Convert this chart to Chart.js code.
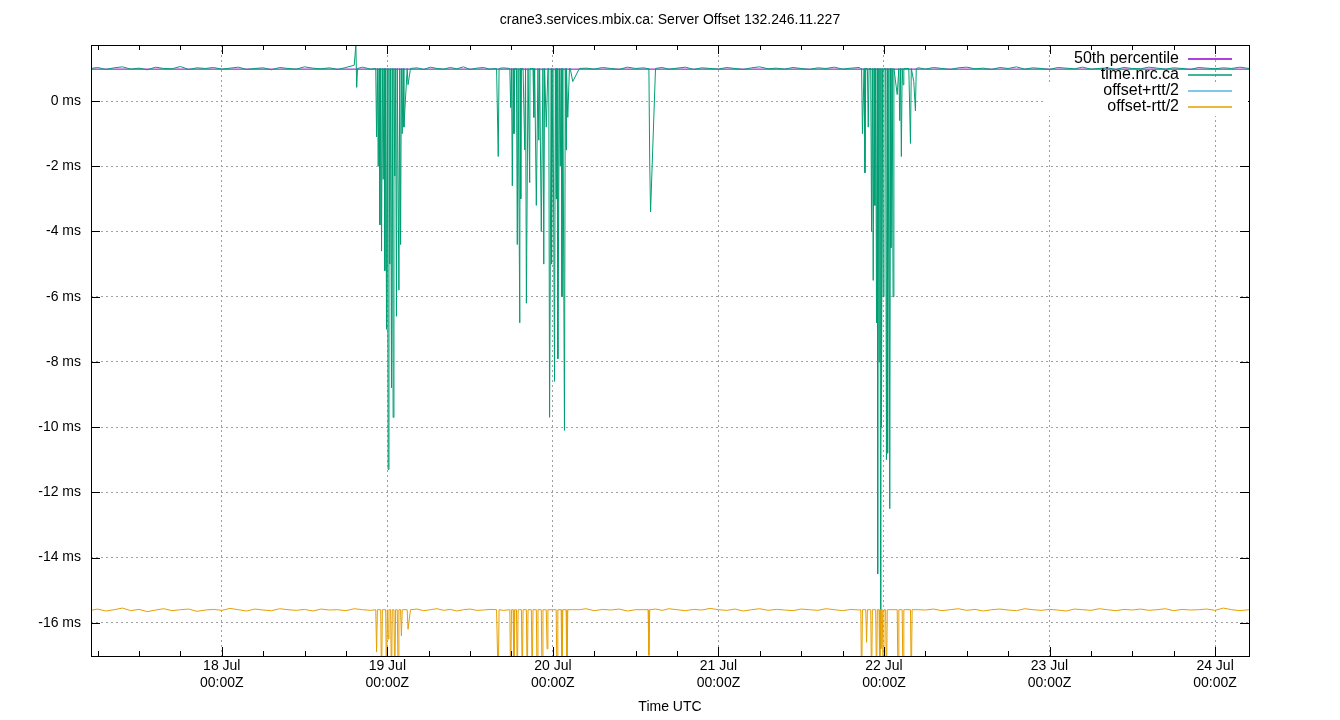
<!DOCTYPE html>
<html><head><meta charset="utf-8">
<script src="https://cdn.jsdelivr.net/npm/chart.js@4"></script>
<style>html,body{margin:0;background:#fff}#wrap{width:1340px;height:720px}</style>
</head><body><div id="wrap"><canvas id="c"></canvas></div>
<script>
// ---------------- datos ----------------
const chartTitle = 'crane3.services.mbix.ca: Server Offset 132.246.11.227';
const xTickDays  = [18, 19, 20, 21, 22, 23, 24];
const xTickLbls  = ['18 Jul', '19 Jul', '20 Jul', '21 Jul', '22 Jul', '23 Jul', '24 Jul'];
const seriesNames = ['50th percentile', 'time.nrc.ca', 'offset+rtt/2', 'offset-rtt/2'];
const seriesColors = ['#9400d3', '#009e73', '#56b4e9', '#e69f00'];

const medianT = [17.21, 24.205];
const medianV = [0.98, 0.98];

const nrcT = [17.21,17.25,17.30,17.35,17.40,17.45,17.50,17.55,17.60,17.65,17.70,17.75,17.80,17.85,17.90,17.95,18.00,18.05,18.10,18.15,18.20,18.25,18.30,18.35,18.40,18.45,18.50,18.55,18.60,18.65,18.70,18.75,18.80,18.81,18.815,18.82,18.85,18.90,
  18.93,18.935,18.94,18.945,18.95,18.955,18.96,18.965,18.97,18.975,18.98,18.985,18.99,18.995,19.00,19.005,19.01,19.015,19.02,19.025,19.03,19.035,19.04,19.045,19.05,19.055,19.06,19.07,19.075,19.08,19.085,19.09,19.095,19.10,19.12,19.125,19.14,
  19.18,19.22,19.26,19.30,19.34,19.38,19.42,19.46,19.50,19.54,19.58,19.62,19.66,19.67,19.675,19.70,
  19.74,19.745,19.75,19.755,19.76,19.765,19.77,19.78,19.785,19.79,19.80,19.802,19.806,19.81,19.82,19.83,19.835,19.84,19.85,19.855,19.86,19.862,19.87,19.88,19.885,19.89,19.90,19.91,19.915,19.92,19.93,19.94,19.945,19.95,19.96,19.97,19.975,19.98,19.99,19.992,20.00,20.01,20.015,20.02,20.022,20.025,20.03,20.04,20.045,20.05,20.055,20.06,20.07,20.075,20.08,20.082,20.09,20.10,20.105,20.12,
  20.16,20.20,20.25,20.30,20.35,20.40,20.45,20.50,20.55,20.575,20.58,20.585,20.59,20.62,20.66,20.70,20.75,20.80,20.85,20.90,20.95,21.00,21.05,21.10,21.15,21.20,21.25,21.30,21.35,21.40,21.45,21.50,21.55,21.60,21.65,21.70,21.75,21.80,21.85,
  21.86,21.865,21.87,21.88,21.885,21.89,21.90,21.905,21.91,21.92,21.925,21.93,21.935,21.94,21.945,21.95,21.955,21.96,21.962,21.965,21.97,21.975,21.98,21.982,21.985,21.99,21.995,22.00,22.01,22.015,22.02,22.022,22.03,22.035,22.04,22.042,22.045,22.05,22.055,22.06,22.08,22.09,22.095,22.10,22.105,22.11,22.115,22.12,22.15,22.16,22.165,22.18,22.19,22.195,22.21,
  22.25,22.30,22.35,22.40,22.45,22.50,22.55,22.60,22.65,22.70,22.75,22.80,22.85,22.90,22.95,23.00,23.05,23.10,23.15,23.20,23.25,23.30,23.35,23.40,23.45,23.50,23.55,23.60,23.65,23.70,23.75,23.80,23.85,23.90,23.95,24.00,24.05,24.10,24.15,24.205];
const nrcV = [1.00,1.03,0.97,1.02,1.05,0.98,1.01,0.96,1.04,1.00,0.99,1.06,0.97,1.02,1.00,1.03,0.98,1.01,1.04,0.97,1.00,1.02,0.96,1.03,1.00,0.98,1.05,1.01,0.99,1.02,0.97,1.03,1.10,1.72,0.42,1.00,1.04,0.98,
  1.00,-1.1,1.00,-2.0,1.00,-3.8,1.00,-4.6,1.00,-2.4,1.00,-5.2,1.00,-7.0,1.00,-11.3,1.00,-5.0,1.00,-8.8,1.00,-9.7,1.00,-2.3,1.00,-6.6,1.00,-5.8,1.00,-4.4,1.00,-1.0,1.00,-0.8,1.00,0.5,1.00,
  1.02,0.97,1.04,1.00,0.98,1.03,0.99,1.05,0.97,1.01,1.03,0.98,1.00,-1.7,1.00,1.02,
  1.00,-0.2,1.00,-2.6,1.00,-1.0,1.00,1.00,-4.4,1.00,-6.8,1.00,-3.0,1.00,1.00,-1.5,1.00,-6.2,1.00,1.00,-2.5,1.00,1.00,1.00,-0.5,1.00,-3.2,1.00,-1.2,1.00,-4.0,1.00,-5.0,1.00,-0.8,1.00,1.00,-9.7,1.00,-5.0,1.00,-8.6,1.00,-3.0,1.00,1.00,-7.9,1.00,-2.0,1.00,-6.0,1.00,-10.1,1.00,-1.5,1.00,-0.5,1.00,1.00,0.6,1.00,
  1.01,0.98,1.03,1.00,0.97,1.04,1.00,1.02,0.99,1.00,-1.9,-3.4,1.00,1.03,0.98,1.01,1.04,0.97,1.02,1.00,0.98,1.03,1.00,0.97,1.02,1.05,0.99,1.01,0.98,1.03,1.00,0.97,1.02,1.00,1.04,0.98,1.01,1.03,1.00,
  1.00,-1.0,1.00,-2.2,1.00,1.00,-0.8,1.00,1.00,-4.0,1.00,-5.5,1.00,-3.2,1.00,-6.8,1.00,-14.5,1.00,-8.0,1.00,-16.8,1.00,-10.0,1.00,-6.0,1.00,1.00,-11.0,1.00,-10.8,1.00,-12.5,1.00,-4.5,-2.3,1.00,-6.0,1.00,0.2,1.00,-0.6,1.00,-1.7,1.00,0.5,1.00,1.00,-1.3,1.00,0.6,-0.3,1.00,1.02,
  0.98,1.03,1.00,0.97,1.02,1.04,0.99,1.01,0.97,1.03,1.00,1.05,0.98,1.02,1.00,0.97,1.03,1.01,0.99,1.04,0.98,1.00,1.02,0.97,1.03,1.00,0.99,1.04,1.01,0.98,1.02,1.00,0.97,1.03,1.01,0.99,1.02,1.00,1.04,1.00];

const lowT = [17.21,17.25,17.30,17.35,17.40,17.45,17.50,17.55,17.60,17.65,17.70,17.75,17.80,17.85,17.90,17.95,18.00,18.05,18.10,18.15,18.20,18.25,18.30,18.35,18.40,18.45,18.50,18.55,18.60,18.65,18.70,18.75,18.80,18.85,18.90,
  18.93,18.935,18.94,18.96,18.965,18.97,18.98,18.99,18.995,19.00,19.005,19.01,19.02,19.025,19.03,19.04,19.045,19.05,19.06,19.065,19.07,19.08,19.085,19.09,19.10,19.12,19.125,19.14,
  19.18,19.22,19.26,19.30,19.34,19.38,19.42,19.46,19.50,19.54,19.58,19.62,19.66,19.67,19.675,19.70,
  19.74,19.745,19.75,19.76,19.765,19.77,19.78,19.785,19.79,19.80,19.81,19.815,19.82,19.84,19.845,19.85,19.87,19.875,19.88,19.90,19.905,19.91,19.93,19.935,19.94,19.96,19.965,19.97,20.00,20.02,20.025,20.03,20.05,20.055,20.06,20.08,20.085,20.09,20.12,
  20.16,20.20,20.25,20.30,20.35,20.40,20.45,20.50,20.55,20.575,20.58,20.585,20.62,20.66,20.70,20.75,20.80,20.85,20.90,20.95,21.00,21.05,21.10,21.15,21.20,21.25,21.30,21.35,21.40,21.45,21.50,21.55,21.60,21.65,21.70,21.75,21.80,21.85,
  21.86,21.865,21.87,21.89,21.895,21.90,21.92,21.925,21.93,21.95,21.955,21.96,21.97,21.975,21.98,21.99,21.995,22.00,22.01,22.015,22.02,22.06,22.08,22.085,22.09,22.11,22.115,22.12,22.16,22.165,22.17,22.21,
  22.25,22.30,22.35,22.40,22.45,22.50,22.55,22.60,22.65,22.70,22.75,22.80,22.85,22.90,22.95,23.00,23.05,23.10,23.15,23.20,23.25,23.30,23.35,23.40,23.45,23.50,23.55,23.60,23.65,23.70,23.75,23.80,23.85,23.90,23.95,24.00,24.05,24.10,24.15,24.205];
const lowV = [-15.62,-15.58,-15.64,-15.60,-15.55,-15.63,-15.59,-15.66,-15.61,-15.57,-15.63,-15.60,-15.58,-15.65,-15.61,-15.59,-15.62,-15.56,-15.60,-15.64,-15.58,-15.61,-15.63,-15.57,-15.60,-15.62,-15.59,-15.64,-15.58,-15.61,-15.60,-15.63,-15.57,-15.60,-15.62,
  -15.6,-16.9,-15.6,-15.6,-18.0,-15.6,-15.6,-15.6,-18.0,-15.6,-16.5,-15.6,-15.6,-18.0,-15.6,-15.6,-18.0,-15.6,-15.6,-17.5,-15.6,-15.6,-16.4,-15.6,-15.6,-15.6,-16.2,-15.6,
  -15.58,-15.63,-15.60,-15.57,-15.62,-15.59,-15.64,-15.60,-15.58,-15.62,-15.61,-15.59,-15.6,-18.0,-15.6,-15.62,
  -15.6,-18.0,-15.6,-15.6,-18.0,-15.6,-15.6,-18.0,-15.6,-15.6,-15.6,-18.0,-15.6,-15.6,-18.0,-15.6,-15.6,-18.0,-15.6,-15.6,-18.0,-15.6,-15.6,-18.0,-15.6,-15.6,-16.8,-15.6,-15.6,-15.6,-18.0,-15.6,-15.6,-18.0,-15.6,-15.6,-18.0,-15.6,-15.6,
  -15.60,-15.57,-15.63,-15.59,-15.61,-15.58,-15.64,-15.60,-15.6,-15.6,-17.0,-15.6,-15.58,-15.62,-15.57,-15.60,-15.63,-15.59,-15.61,-15.56,-15.60,-15.62,-15.58,-15.64,-15.60,-15.57,-15.62,-15.59,-15.61,-15.63,-15.58,-15.60,-15.62,-15.57,-15.60,-15.63,-15.59,-15.61,
  -15.6,-18.0,-15.6,-15.6,-16.6,-15.6,-15.6,-18.0,-15.6,-15.6,-18.0,-15.6,-15.6,-18.0,-15.6,-15.6,-18.0,-15.6,-15.6,-18.0,-15.6,-15.6,-15.6,-18.0,-15.6,-15.6,-18.0,-15.6,-15.6,-18.0,-15.6,-15.6,
  -15.61,-15.58,-15.63,-15.60,-15.57,-15.62,-15.59,-15.64,-15.60,-15.58,-15.61,-15.63,-15.57,-15.60,-15.62,-15.59,-15.61,-15.64,-15.58,-15.60,-15.62,-15.57,-15.60,-15.63,-15.59,-15.61,-15.58,-15.62,-15.60,-15.57,-15.63,-15.59,-15.61,-15.60,-15.58,-15.62,-15.55,-15.60,-15.63,-15.60];

const highT = [17.21, 24.205];
const highV = [18.0, 18.0];

// ---------------- armado ----------------
const pts = (t, v) => t.map((x, i) => ({ x: x, y: v[i] }));
const FONT = '"Liberation Sans", Arial, sans-serif';

const gnuplotDecor = {
    id: 'gnuplotDecor',
    afterDraw(chart) {
        const { ctx, chartArea: a, scales: { x, y } } = chart;
        ctx.save();
        ctx.globalAlpha = 1;
        ctx.setLineDash([]);
        ctx.strokeStyle = '#000'; ctx.lineWidth = 1;
        ctx.beginPath();
        for (let d = 17.25; d <= 24.2; d += 0.25) {
            const px = Math.round(x.getPixelForValue(d)) + 0.5;
            const len = Math.abs(d - Math.round(d)) < 1e-6 ? 9 : 5;
            ctx.moveTo(px, a.bottom); ctx.lineTo(px, a.bottom - len);
            ctx.moveTo(px, a.top); ctx.lineTo(px, a.top + len);
        }
        for (let v = -16; v <= 0; v += 2) {
            const py = Math.round(y.getPixelForValue(v)) + 0.5;
            ctx.moveTo(a.left, py); ctx.lineTo(a.left + 9, py);
            ctx.moveTo(a.right, py); ctx.lineTo(a.right - 9, py);
        }
        ctx.stroke();
        ctx.strokeRect(a.left + 0.5, a.top + 0.5, a.right - a.left, a.bottom - a.top);
        // leyenda estilo gnuplot
        ctx.fillStyle = '#fff';
        ctx.fillRect(1046, 84, 202, 32);
        ctx.font = '16px ' + FONT; ctx.textAlign = 'right'; ctx.textBaseline = 'middle';
        seriesNames.forEach((n, i) => {
            const ly = 59 + i * 16;
            ctx.fillStyle = '#000'; ctx.fillText(n, 1179, ly);
            ctx.beginPath();
            ctx.strokeStyle = seriesColors[i]; ctx.lineWidth = 1.5;
            ctx.moveTo(1188, ly); ctx.lineTo(1232, ly); ctx.stroke();
        });
        ctx.fillStyle = '#000'; ctx.textAlign = 'center';
        ctx.font = '14px ' + FONT;
        ctx.fillText(chartTitle, 670, 20);
        ctx.restore();
    }
};

const ds = (t, v, i) => ({
    label: seriesNames[i], data: pts(t, v), borderColor: seriesColors[i],
    borderWidth: 1, pointRadius: 0, showLine: true, tension: 0, order: 4 - i
});

new Chart(document.getElementById('c'), {
    type: 'scatter',
    data: { datasets: [
        ds(medianT, medianV, 0), ds(nrcT, nrcV, 1), ds(highT, highV, 2), ds(lowT, lowV, 3)
    ] },
    options: {
        responsive: true, maintainAspectRatio: false, animation: false,
        layout: { padding: { top: 45, right: 91, left: 0, bottom: 0 } },
        plugins: { legend: { display: false }, tooltip: { enabled: false } },
        scales: {
            x: {
                type: 'linear', min: 17.21, max: 24.205,
                afterBuildTicks: s => { s.ticks = xTickDays.map(v => ({ value: v })); },
                afterFit: s => { s.height = 64; },
                ticks: { color: '#000', font: { size: 14, family: FONT }, padding: 2, maxRotation: 0,
                    callback: (v) => [xTickLbls[xTickDays.indexOf(v)], '00:00Z'] },
                grid: { color: '#a0a0a0', drawTicks: false },
                border: { display: false, dash: [2, 3] },
                title: { display: true, text: 'Time UTC', color: '#000', font: { size: 14, family: FONT }, padding: { top: 0 } }
            },
            y: {
                min: -17.02, max: 1.72,
                afterBuildTicks: s => { s.ticks = [-16,-14,-12,-10,-8,-6,-4,-2,0].map(v => ({ value: v })); },
                afterFit: s => { s.width = 91; },
                ticks: { color: '#000', font: { size: 14, family: FONT }, padding: 10, callback: v => v + ' ms' },
                grid: { color: '#a0a0a0', drawTicks: false },
                border: { display: false, dash: [2, 3] }
            }
        }
    },
    plugins: [gnuplotDecor]
});
</script></body></html>
